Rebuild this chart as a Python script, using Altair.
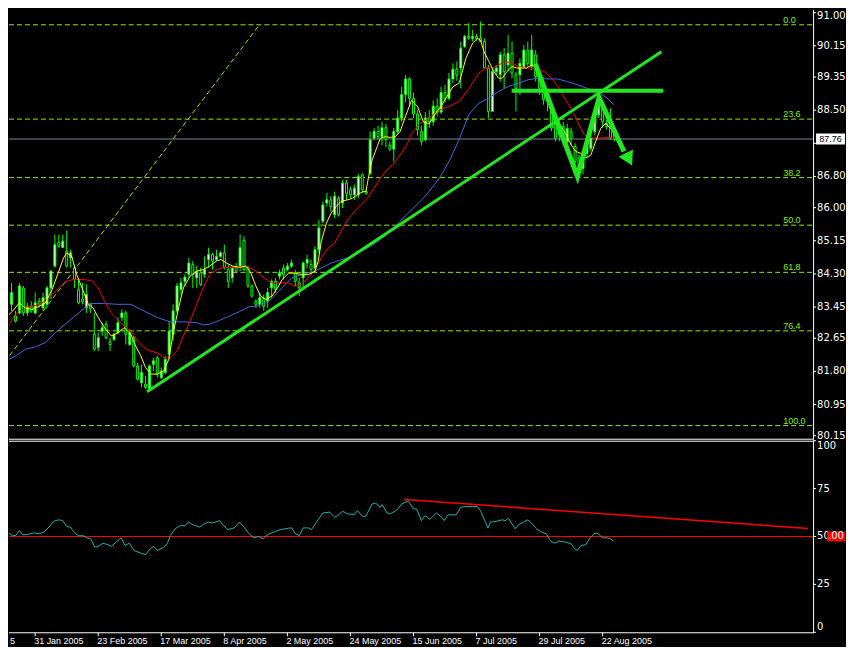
import altair as alt
import pandas as pd

# ---------------- values ----------------
opens = [83.82, 83.52, 83.22, 83.30, 83.94, 83.30, 83.47, 83.30, 83.60, 83.43,
         83.52, 83.94, 84.50, 85.10, 84.98, 84.88, 84.71, 84.46, 83.90, 83.66,
         83.43, 83.52, 82.75, 82.41, 82.83, 83.01, 82.56, 82.62, 82.79, 83.18,
         83.30, 82.49, 82.66, 81.94, 81.51, 81.47, 81.34, 81.98, 82.15, 81.64,
         81.77, 82.24, 82.75, 83.35, 83.90, 84.11, 84.29, 84.54, 84.20, 84.33,
         84.29, 84.67, 84.80, 84.67, 84.75, 84.84, 84.41, 84.20, 84.46, 84.50,
         85.16, 84.46, 83.99, 83.60, 83.52, 83.67, 83.60, 83.94, 84.11, 84.24,
         84.45, 84.41, 84.50, 84.32, 84.07, 84.20, 84.58, 84.54, 84.45, 84.92,
         85.65, 86.12, 86.20, 85.82, 86.24, 86.12, 86.63, 86.46, 86.33, 86.33,
         86.84, 86.41, 86.88, 87.78, 87.95, 87.82, 88.05, 87.60, 87.50, 87.95,
         88.30, 88.90, 89.30, 88.80, 88.40, 87.95, 87.75, 88.30, 88.20, 88.60,
         88.45, 88.95, 88.80, 89.30, 89.55, 89.58, 90.13, 90.39, 90.34, 90.39,
         90.34, 90.26, 89.58, 88.47, 89.49, 89.41, 89.92, 89.66, 89.96, 89.41,
         89.41, 89.62, 90.04, 89.62, 89.92, 89.36, 89.06, 88.85, 88.55, 88.21,
         87.87, 88.08, 87.69, 87.95, 87.57, 87.27, 87.01, 87.39, 87.52, 87.95,
         88.38, 88.55, 88.16, 88.20, 88.03]
highs = [84.03, 84.07, 83.35, 84.07, 83.99, 83.56, 83.60, 83.82, 83.69, 83.82,
         83.99, 84.41, 85.31, 85.31, 85.31, 85.41, 84.92, 84.54, 84.16, 84.07,
         84.03, 83.56, 83.30, 82.79, 83.05, 83.09, 82.66, 82.79, 83.18, 83.39,
         83.36, 82.88, 82.71, 82.02, 81.98, 81.68, 81.98, 82.15, 82.20, 81.90,
         82.20, 83.09, 83.52, 84.07, 84.20, 84.29, 84.71, 84.63, 84.50, 84.46,
         84.75, 84.97, 84.84, 84.92, 84.88, 85.05, 84.54, 84.50, 84.58, 85.31,
         85.27, 84.50, 84.03, 83.65, 83.82, 83.77, 83.94, 84.16, 84.20, 84.41,
         84.54, 84.58, 84.67, 84.41, 84.20, 84.62, 84.79, 84.67, 85.01, 85.69,
         86.16, 86.37, 86.29, 86.41, 86.29, 86.71, 86.71, 86.54, 86.59, 86.86,
         86.88, 86.46, 87.95, 88.04, 88.10, 88.20, 88.15, 87.70, 88.05, 88.50,
         89.10, 89.40, 89.35, 88.95, 88.50, 88.10, 88.45, 88.50, 88.75, 88.80,
         89.10, 89.15, 89.45, 89.70, 89.75, 90.26, 90.43, 90.73, 90.56, 90.45,
         90.77, 90.34, 89.66, 89.58, 89.66, 90.00, 90.09, 90.43, 90.26, 89.49,
         89.83, 90.17, 90.26, 90.43, 90.04, 89.49, 89.23, 88.94, 88.64, 88.30,
         88.21, 88.20, 88.15, 88.05, 87.65, 87.35, 87.45, 87.65, 87.90, 88.55,
         88.85, 88.70, 88.25, 88.55, 88.10]
lows = [83.35, 83.35, 83.05, 83.26, 83.22, 83.22, 83.30, 83.26, 83.43, 83.35,
        83.43, 83.65, 84.46, 84.97, 84.97, 84.46, 84.46, 83.94, 83.52, 83.52,
        83.30, 83.30, 82.32, 82.32, 82.71, 82.62, 82.32, 82.58, 82.75, 83.09,
        82.49, 82.45, 81.90, 81.56, 81.39, 81.34, 81.30, 81.81, 81.64, 81.60,
        81.73, 82.11, 82.58, 83.30, 83.77, 83.99, 84.20, 83.94, 83.94, 83.99,
        84.20, 84.46, 84.41, 84.63, 84.71, 84.41, 83.94, 84.07, 84.37, 84.37,
        84.37, 83.94, 83.69, 83.43, 83.43, 83.35, 83.43, 83.69, 83.82, 84.16,
        84.15, 84.37, 84.45, 83.98, 83.73, 83.94, 84.45, 84.28, 84.32, 84.84,
        85.60, 86.03, 85.90, 85.73, 85.77, 85.99, 86.20, 86.24, 86.20, 86.24,
        86.37, 86.33, 86.84, 87.74, 87.75, 87.60, 87.55, 87.45, 87.18, 87.90,
        88.20, 88.70, 88.60, 88.30, 87.85, 87.60, 87.70, 88.05, 88.10, 88.35,
        88.40, 88.70, 88.75, 89.20, 89.25, 89.06, 90.09, 90.30, 90.26, 90.28,
        90.26, 89.58, 88.30, 88.47, 89.40, 89.23, 89.06, 89.49, 89.32, 88.47,
        88.89, 89.58, 89.62, 89.53, 89.23, 88.89, 88.64, 88.47, 87.96, 87.70,
        87.70, 87.60, 87.55, 87.60, 87.10, 86.80, 86.85, 87.30, 87.45, 87.85,
        88.30, 88.05, 88.00, 87.73, 87.70]
closes = [83.56, 83.82, 83.09, 83.99, 83.30, 83.47, 83.35, 83.56, 83.52, 83.69,
          83.94, 84.37, 85.05, 85.01, 85.14, 84.50, 84.84, 84.16, 83.56, 83.58,
          83.77, 83.41, 82.37, 82.66, 82.92, 82.66, 82.49, 82.75, 83.05, 83.30,
          82.75, 82.79, 81.94, 81.60, 81.77, 81.39, 81.94, 82.07, 81.73, 81.81,
          82.11, 82.83, 83.35, 83.99, 84.07, 84.22, 84.58, 84.29, 84.37, 84.03,
          84.41, 84.80, 84.63, 84.75, 84.84, 84.46, 84.11, 84.46, 84.37, 84.97,
          84.41, 83.99, 83.73, 83.52, 83.69, 83.47, 83.82, 84.11, 83.90, 84.33,
          84.28, 84.50, 84.58, 84.11, 83.94, 84.58, 84.67, 84.41, 84.92, 85.48,
          86.07, 86.20, 86.03, 86.29, 85.82, 86.63, 86.37, 86.33, 86.50, 86.80,
          86.46, 86.37, 87.74, 87.95, 87.82, 88.05, 87.75, 87.50, 87.95, 88.30,
          88.90, 89.30, 88.80, 88.40, 88.00, 87.70, 88.30, 88.20, 88.60, 88.45,
          88.95, 88.80, 89.30, 89.55, 89.40, 90.09, 90.39, 90.34, 90.39, 90.34,
          90.26, 89.58, 88.47, 89.49, 89.58, 89.92, 89.49, 89.96, 89.45, 89.06,
          89.70, 90.04, 89.70, 90.04, 89.36, 89.06, 88.77, 88.72, 88.04, 87.78,
          88.13, 87.69, 88.03, 87.78, 87.18, 86.93, 87.35, 87.57, 87.78, 88.46,
          88.72, 88.20, 88.08, 87.78, 87.76]

# moving averages: (bar index, price)
ma_fast = [(-0.4, 83.18), (1.3, 83.35), (3.0, 83.56), (4.6, 83.42), (6.3, 83.39), (8.0, 83.47),
           (9.6, 83.56), (11.3, 83.90), (13.0, 84.37), (14.2, 84.71), (15.0, 84.84), (16.3, 84.75),
           (17.5, 84.29), (19.2, 83.86), (20.5, 83.52), (21.7, 83.43), (23.0, 83.18), (24.6, 82.92),
           (26.3, 82.71), (28.0, 82.79), (29.6, 82.92), (31.3, 82.75), (32.5, 82.45), (33.8, 82.20),
           (35.0, 81.90), (36.3, 81.73), (38.0, 81.73), (39.6, 81.81), (40.9, 82.11), (42.1, 82.83),
           (43.4, 83.43), (44.6, 83.94), (46.3, 84.24), (48.0, 84.37), (49.6, 84.41), (51.3, 84.50),
           (53.0, 84.63), (54.2, 84.67), (55.5, 84.58), (57.1, 84.50), (58.8, 84.47), (60.5, 84.50),
           (61.7, 84.33), (63.0, 83.99), (64.2, 83.73), (65.5, 83.65), (67.1, 83.73), (68.8, 83.99),
           (69.6, 84.15), (71.3, 84.32), (73.0, 84.32), (74.6, 84.28), (76.3, 84.28), (78.0, 84.37),
           (78.8, 84.62), (79.6, 85.13), (80.9, 85.60), (82.1, 85.86), (83.4, 86.03), (84.6, 86.16),
           (86.3, 86.20), (87.5, 86.24), (88.8, 86.33), (90.1, 86.41), (90.9, 86.41), (91.7, 86.84),
           (92.5, 87.22), (93.8, 87.57), (94.6, 87.78), (95.9, 87.82), (97.1, 87.80), (98.4, 87.82),
           (99.6, 87.95), (101.0, 88.35), (102.5, 88.75), (104.0, 88.60), (105.5, 88.20), (107.0, 88.15),
           (108.5, 88.40), (110.0, 88.60), (111.5, 88.85), (113.0, 89.10), (114.6, 89.20), (116.3, 89.83),
           (118.0, 90.22), (119.2, 90.34), (120.0, 90.30), (120.9, 90.00), (122.1, 89.75), (123.4, 89.49),
           (124.6, 89.32), (125.5, 89.32), (126.7, 89.49), (128.0, 89.62), (129.2, 89.58), (130.5, 89.58),
           (131.7, 89.58), (133.0, 89.66), (134.2, 89.62), (135.5, 89.23), (136.7, 88.89), (138.0, 88.55),
           (139.6, 88.21), (141.3, 87.95), (143.0, 87.61), (144.2, 87.44), (145.5, 87.39), (146.7, 87.27),
           (148.0, 87.35), (149.2, 87.69), (150.5, 88.03), (151.7, 88.16), (153.0, 88.03), (154.0, 87.95)]
ma_mid = [(-0.4, 82.83), (1.3, 83.18), (3.0, 83.35), (4.6, 83.45), (6.3, 83.47), (8.0, 83.52),
          (9.6, 83.60), (11.3, 83.77), (13.0, 83.94), (14.6, 84.09), (16.3, 84.15), (18.8, 84.16),
          (21.3, 84.13), (23.0, 83.94), (24.6, 83.60), (26.3, 83.30), (28.0, 83.13), (29.6, 82.96),
          (31.3, 82.83), (33.0, 82.58), (34.6, 82.41), (36.3, 82.32), (38.0, 82.28), (39.6, 82.15),
          (41.3, 82.14), (43.0, 82.32), (44.6, 82.71), (46.3, 83.09), (48.0, 83.52), (49.6, 83.94),
          (51.3, 84.29), (53.0, 84.41), (54.6, 84.46), (56.3, 84.46), (58.0, 84.47), (59.6, 84.50),
          (61.3, 84.47), (63.0, 84.37), (64.6, 84.24), (66.3, 84.11), (68.0, 84.05), (69.6, 84.07),
          (71.3, 84.07), (73.0, 83.98), (74.6, 84.03), (76.3, 84.20), (78.0, 84.41), (79.6, 84.71),
          (81.3, 84.96), (83.0, 85.09), (84.6, 85.39), (86.3, 85.69), (88.0, 85.90), (89.6, 86.07),
          (91.3, 86.24), (93.0, 86.50), (94.6, 86.76), (96.3, 86.97), (98.4, 87.18), (99.6, 87.35),
          (101.3, 87.61), (102.5, 87.90), (104.6, 88.15), (107.0, 88.30), (109.6, 88.50), (112.0, 88.60),
          (114.6, 88.72), (117.1, 89.06), (119.6, 89.45), (121.3, 89.58), (123.0, 89.58), (124.6, 89.66),
          (126.3, 89.75), (128.0, 89.70), (129.6, 89.62), (131.3, 89.58), (133.0, 89.58), (134.6, 89.53),
          (136.3, 89.49), (138.0, 89.32), (139.6, 89.11), (141.3, 88.81), (143.0, 88.55), (144.6, 88.21),
          (146.3, 87.87), (148.0, 87.80), (150.0, 87.78), (152.0, 87.80), (154.0, 87.78)]
ma_slow = [(-0.4, 82.07), (2.1, 82.20), (4.6, 82.37), (7.1, 82.43), (9.6, 82.54), (12.1, 82.79),
           (14.6, 83.01), (17.1, 83.22), (19.6, 83.43), (21.3, 83.54), (24.6, 83.54), (28.0, 83.52),
           (31.3, 83.52), (34.6, 83.35), (38.0, 83.18), (41.3, 83.07), (44.6, 83.07), (48.0, 83.05),
           (49.6, 82.99), (51.3, 83.01), (53.8, 83.11), (56.3, 83.22), (58.8, 83.33), (61.3, 83.46),
           (63.0, 83.47), (65.5, 83.56), (67.1, 83.67), (68.8, 83.86), (69.6, 83.94), (72.1, 84.20),
           (74.6, 84.28), (78.0, 84.37), (82.1, 84.58), (86.3, 84.71), (89.6, 84.88), (92.1, 85.01),
           (94.6, 85.18), (97.1, 85.39), (99.6, 85.65), (103.0, 85.99), (106.3, 86.33), (109.6, 86.76),
           (112.1, 87.20), (114.6, 87.75), (117.1, 88.40), (119.6, 88.68), (122.1, 88.81), (124.6, 88.98),
           (127.1, 89.11), (129.6, 89.19), (132.1, 89.28), (134.6, 89.32), (137.1, 89.30), (139.6, 89.30),
           (142.1, 89.23), (144.6, 89.15), (147.1, 89.06), (149.6, 88.98), (152.1, 88.81), (153.8, 88.64)]

rsi_i = [-0.4, 0.6, 1.3, 2.1, 3.0, 3.8, 5.0, 6.7, 8.0, 9.2,
         10.5, 11.7, 13.0, 14.0, 15.0, 15.9, 17.1, 18.0, 19.2, 20.0,
         21.1, 22.1, 23.0, 24.2, 25.5, 26.3, 27.5, 28.8, 29.8, 30.9,
         32.1, 33.8, 35.0, 36.3, 37.1, 38.0, 39.6, 40.5, 41.3, 42.5,
         43.8, 45.0, 45.9, 47.1, 48.8, 49.6, 50.9, 52.1, 53.8, 54.8,
         55.9, 57.5, 58.8, 60.0, 61.3, 62.5, 63.8, 64.8, 65.9, 67.5,
         69.2, 71.3, 72.1, 73.0, 74.0, 75.0, 76.3, 77.1, 78.4, 80.0,
         81.7, 83.0, 83.8, 85.0, 86.3, 88.0, 88.8, 90.0, 90.9, 92.5,
         93.4, 94.6, 95.0, 96.3, 97.1, 98.8, 100.0, 100.9, 101.7, 103.0,
         103.8, 105.0, 105.9, 107.1, 108.8, 110.0, 110.8, 111.7, 113.8, 115.0,
         116.3, 119.2, 120.0, 121.1, 121.9, 122.5, 124.2, 125.5, 126.3, 127.1,
         128.8, 129.6, 130.9, 132.0, 133.0, 134.2, 135.5, 136.7, 137.8, 138.8,
         140.0, 141.7, 143.0, 143.9, 144.6, 145.5, 146.7, 147.8, 148.8, 149.6,
         150.4, 150.9, 152.1, 153.0, 153.8]
rsi_v = [53.5, 51.4, 50.4, 50.5, 53.1, 50.9, 51.0, 51.9, 51.4, 52.3,
         54.9, 58.0, 58.7, 58.3, 55.2, 54.9, 51.7, 50.4, 50.4, 49.3,
         48.8, 44.4, 44.8, 46.5, 45.7, 44.8, 47.0, 49.3, 45.3, 46.5,
         42.7, 41.3, 40.6, 43.9, 44.8, 42.7, 44.4, 46.2, 50.5, 54.0,
         55.7, 55.7, 57.5, 56.1, 54.9, 56.3, 57.5, 57.1, 58.3, 55.7,
         53.6, 54.5, 57.5, 54.9, 51.4, 49.3, 50.0, 48.8, 50.9, 52.3,
         53.6, 54.3, 54.5, 51.4, 50.5, 54.5, 54.5, 53.6, 57.5, 62.3,
         62.7, 60.1, 60.9, 63.2, 61.8, 61.5, 63.5, 60.6, 60.6, 67.0,
         67.4, 65.3, 66.7, 62.3, 61.8, 63.9, 67.0, 67.9, 68.4, 64.4,
         64.4, 58.3, 60.9, 58.9, 62.2, 60.4, 58.3, 61.3, 61.3, 65.3,
         65.6, 65.6, 63.5, 58.3, 54.3, 57.5, 58.0, 58.7, 58.3, 59.5,
         54.0, 56.1, 57.5, 58.7, 56.9, 54.0, 52.3, 51.4, 47.6, 46.5,
         47.6, 47.0, 46.2, 43.6, 42.7, 45.3, 45.7, 49.3, 51.4, 51.8,
         50.5, 49.3, 49.3, 48.8, 47.6]

tick_index = [7, 23, 39, 55, 71, 87, 103, 119, 135, 151]
tick_labels = ["31 Jan 2005", "23 Feb 2005", "17 Mar 2005", "8 Apr 2005", "2 May 2005",
               "24 May 2005", "15 Jun 2005", "7 Jul 2005", "29 Jul 2005", "22 Aug 2005"]
# price scale marks (the 87.65 mark sits under the current-price box, so only its tick shows)
price_ticks = [91.00, 90.15, 89.35, 88.50, 87.65, 86.80, 86.00, 85.15, 84.30, 83.45,
               82.65, 81.80, 80.95, 80.15]
hidden_price_labels = [87.65]
rsi_ticks = [0, 25, 50, 75, 100]

fib_labels = ["0.0", "23.6", "38.2", "50.0", "61.8", "76.4", "100.0"]
fib_prices = [90.69, 88.27, 86.77, 85.55, 84.34, 82.84, 80.41]
fib_diag_i = [-12.9, 63.9]
fib_diag_p = [80.41, 90.69]

trend_i = [35.4, 165.9]
trend_p = [81.28, 90.00]
neck_i = [127.9, 166.4]
neck_p = [89.00, 89.00]
zig_i = [133.9, 144.6, 150.1, 156.4]
zig_p = [89.69, 86.80, 88.82, 87.44]
arrow_i = [157.4]
arrow_p = [87.29]

rsi_trend_i = [100.6, 203.1]
rsi_trend_v = [69.3, 54.2]

last_price = 87.76
rsi_level = 50

# ---------------- layout / styling ----------------
W = 806
H = 624
MAIN_H = 429
RSI_TOP = 432
PX_PER_PRICE = MAIN_H / (91.075 - 80.098)

LIME = "#00ff00"
TREND = "#22e622"
FIB = "#8cf000"
WHITE = "#ffffff"

xs = alt.Scale(domain=[1.625, 203.125], range=[0, W], nice=False, zero=False)
ps = alt.Scale(domain=[80.098, 91.075], range=[MAIN_H, 0], nice=False, zero=False)
rs = alt.Scale(domain=[0, 100], range=[H, RSI_TOP], nice=False, zero=False)


def X(f):
    return alt.X(f, type="quantitative", scale=xs, axis=None)


def P(f):
    return alt.Y(f, type="quantitative", scale=ps, axis=None)


def R(f):
    return alt.Y(f, type="quantitative", scale=rs, axis=None)


candles = pd.DataFrame({"i": list(range(len(closes))), "open": opens, "high": highs,
                        "low": lows, "close": closes})
candles["top"] = candles[["open", "close"]].max(axis=1)
candles["bot"] = candles[["open", "close"]].min(axis=1)
candles["dir"] = ["up" if c >= o else "down" for o, c in zip(opens, closes)]

fast_df = pd.DataFrame(ma_fast, columns=["i", "v"])
mid_df = pd.DataFrame(ma_mid, columns=["i", "v"])
slow_df = pd.DataFrame(ma_slow, columns=["i", "v"])
rsi_df = pd.DataFrame({"i": rsi_i, "v": rsi_v})
fib_df = pd.DataFrame({"p": fib_prices, "lab": fib_labels})
diag_df = pd.DataFrame({"i": fib_diag_i, "p": fib_diag_p})
trend_df = pd.DataFrame({"i": trend_i, "p": trend_p})
neck_df = pd.DataFrame({"i": neck_i, "p": neck_p})
zig_df = pd.DataFrame({"i": zig_i, "p": zig_p})
arrow_df = pd.DataFrame({"i": arrow_i, "p": arrow_p})
rsitr_df = pd.DataFrame({"i": rsi_trend_i, "v": rsi_trend_v})
pt_df = pd.DataFrame({"p": price_ticks, "lab": [f"{v:.2f}" for v in price_ticks]})
ptl_df = pt_df[~pt_df.p.isin(hidden_price_labels)]
rt_df = pd.DataFrame({"v": rsi_ticks, "lab": [str(v) for v in rsi_ticks]})
xt_df = pd.DataFrame({"i": tick_index, "lab": tick_labels})
last_df = pd.DataFrame({"p": [last_price],
                        "lo": [last_price - 5.5 / PX_PER_PRICE],
                        "hi": [last_price + 5.5 / PX_PER_PRICE],
                        "lab": [f"{last_price:.2f}"]})
lvl_df = pd.DataFrame({"v": [rsi_level], "lo": [rsi_level - 2.6], "hi": [rsi_level + 2.6], "lab": [".00"]})
frag_df = pd.DataFrame({"lab": ["5"]})

layers = []

# fibonacci levels
layers.append(alt.Chart(fib_df).mark_rule(color=FIB, strokeWidth=1, strokeDash=[5, 3]).encode(
    y=P("p"), x=alt.value(0), x2=alt.value(W - 1)))
layers.append(alt.Chart(fib_df).mark_text(color=FIB, align="left", baseline="alphabetic", dy=-2,
                                          font="Liberation Sans", fontSize=9).encode(
    y=P("p"), x=alt.value(776), text="lab:N"))
layers.append(alt.Chart(diag_df).mark_line(color=FIB, strokeWidth=1, strokeDash=[5, 3], clip=True).encode(
    x=X("i"), y=P("p")))

# last price line
layers.append(alt.Chart(last_df).mark_rule(color="#778899", strokeWidth=1).encode(
    y=P("p"), x=alt.value(0), x2=alt.value(W)))

# candles (up bodies hollow-white, down bodies black, lime outline)
layers.append(alt.Chart(candles).mark_rule(color=LIME, strokeWidth=1, clip=True).encode(
    x=X("i"), y=P("low"), y2="high"))
layers.append(alt.Chart(candles).mark_bar(size=2, stroke=LIME, strokeWidth=1, clip=True).encode(
    x=X("i"), y=P("bot"), y2="top",
    fill=alt.Fill("dir:N", scale=alt.Scale(domain=["up", "down"], range=["#ffffff", "#000000"]), legend=None)))

# moving averages
layers.append(alt.Chart(slow_df).mark_line(color="#4169e1", strokeWidth=1, clip=True).encode(x=X("i"), y=P("v")))
layers.append(alt.Chart(mid_df).mark_line(color="#ff0000", strokeWidth=1, clip=True).encode(x=X("i"), y=P("v")))
layers.append(alt.Chart(fast_df).mark_line(color="#ffff00", strokeWidth=1, clip=True).encode(x=X("i"), y=P("v")))

# drawn trend lines
layers.append(alt.Chart(trend_df).mark_line(color=TREND, strokeWidth=3, clip=True).encode(x=X("i"), y=P("p")))
layers.append(alt.Chart(neck_df).mark_line(color=TREND, strokeWidth=4, clip=True).encode(x=X("i"), y=P("p")))
layers.append(alt.Chart(zig_df).mark_line(color=TREND, strokeWidth=5, strokeJoin="miter", clip=True).encode(
    x=X("i"), y=P("p")))
layers.append(alt.Chart(arrow_df).mark_point(shape="triangle", filled=True, size=260, angle=153,
                                             color=TREND, opacity=1).encode(x=X("i"), y=P("p")))

# RSI panel
layers.append(alt.Chart(lvl_df).mark_rule(color="#ff0000", strokeWidth=1).encode(
    y=R("v"), x=alt.value(0), x2=alt.value(W)))
layers.append(alt.Chart(rsitr_df).mark_line(color="#ff0000", strokeWidth=1.5, clip=True).encode(
    x=X("i"), y=R("v")))
layers.append(alt.Chart(rsi_df).mark_line(color="#20b2aa", strokeWidth=1, clip=True).encode(
    x=X("i"), y=R("v")))

# frames
frame = pd.DataFrame({"k": [0]})
layers.append(alt.Chart(frame).mark_rule(color=WHITE, strokeWidth=1).encode(
    x=alt.value(0), x2=alt.value(W + 1), y=alt.value(MAIN_H + 1.5)))
layers.append(alt.Chart(frame).mark_rule(color=WHITE, strokeWidth=1).encode(
    x=alt.value(0), x2=alt.value(W + 1), y=alt.value(RSI_TOP + 0.5)))
layers.append(alt.Chart(frame).mark_rule(color=WHITE, strokeWidth=1).encode(
    x=alt.value(0), x2=alt.value(W + 1), y=alt.value(H + 0.5)))
layers.append(alt.Chart(frame).mark_rule(color=WHITE, strokeWidth=1).encode(
    x=alt.value(W + 0.5), y=alt.value(0), y2=alt.value(MAIN_H + 1.5)))
layers.append(alt.Chart(frame).mark_rule(color=WHITE, strokeWidth=1).encode(
    x=alt.value(W + 0.5), y=alt.value(RSI_TOP + 0.5), y2=alt.value(H + 0.5)))

# price axis
layers.append(alt.Chart(pt_df).mark_rule(color=WHITE, strokeWidth=1).encode(
    y=P("p"), x=alt.value(W), x2=alt.value(W + 3)))
layers.append(alt.Chart(ptl_df.iloc[1:]).mark_text(color=WHITE, align="left", baseline="middle",
                                                   font="DejaVu Sans", fontSize=10).encode(
    y=P("p"), x=alt.value(W + 4), text="lab:N"))
layers.append(alt.Chart(ptl_df.iloc[:1]).mark_text(color=WHITE, align="left", baseline="middle", dy=3,
                                                   font="DejaVu Sans", fontSize=10).encode(
    y=P("p"), x=alt.value(W + 4), text="lab:N"))
layers.append(alt.Chart(last_df).mark_rect(color=WHITE).encode(
    y=P("lo"), y2="hi", x=alt.value(W + 3), x2=alt.value(W + 32)))
layers.append(alt.Chart(last_df).mark_text(color="#000000", align="center", baseline="middle",
                                           font="Liberation Sans", fontSize=9).encode(
    y=P("p"), x=alt.value(W + 17.5), text="lab:N"))

# RSI axis
layers.append(alt.Chart(rt_df).mark_rule(color=WHITE, strokeWidth=1).encode(
    y=R("v"), x=alt.value(W), x2=alt.value(W + 3)))
layers.append(alt.Chart(rt_df[(rt_df.v > 0) & (rt_df.v < 100)]).mark_text(
    color=WHITE, align="left", baseline="middle", font="DejaVu Sans", fontSize=10).encode(
    y=R("v"), x=alt.value(W + 4), text="lab:N"))
layers.append(alt.Chart(rt_df[rt_df.v == 100]).mark_text(
    color=WHITE, align="left", baseline="top", font="DejaVu Sans", fontSize=10).encode(
    y=R("v"), x=alt.value(W + 4), text="lab:N"))
layers.append(alt.Chart(rt_df[rt_df.v == 0]).mark_text(
    color=WHITE, align="left", baseline="bottom", font="DejaVu Sans", fontSize=10).encode(
    y=R("v"), x=alt.value(W + 4), text="lab:N"))
layers.append(alt.Chart(lvl_df).mark_rect(color="#ff0000").encode(
    y=R("lo"), y2="hi", x=alt.value(W + 14), x2=alt.value(W + 32)))
layers.append(alt.Chart(lvl_df).mark_text(color=WHITE, align="center", baseline="middle",
                                          font="DejaVu Sans", fontSize=10).encode(
    y=R("v"), x=alt.value(W + 23), text="lab:N"))

# time axis
layers.append(alt.Chart(xt_df).mark_rule(color=WHITE, strokeWidth=1).encode(
    x=X("i"), y=alt.value(H + 0.5), y2=alt.value(H + 4)))
layers.append(alt.Chart(xt_df).mark_text(color=WHITE, align="left", baseline="top", dx=-1,
                                         font="Liberation Sans", fontSize=9).encode(
    x=X("i"), y=alt.value(H + 5), text="lab:N"))
layers.append(alt.Chart(frag_df).mark_text(color=WHITE, align="left", baseline="top",
                                           font="Liberation Sans", fontSize=9).encode(
    x=alt.value(1), y=alt.value(H + 5), text="lab:N"))

chart = alt.layer(*layers).resolve_scale(y="independent").properties(
    width=W, height=H, padding=0
).configure(background="#000000").configure_view(stroke=None)

chart.save("out.html", embed_options={"renderer": "svg", "actions": False})
